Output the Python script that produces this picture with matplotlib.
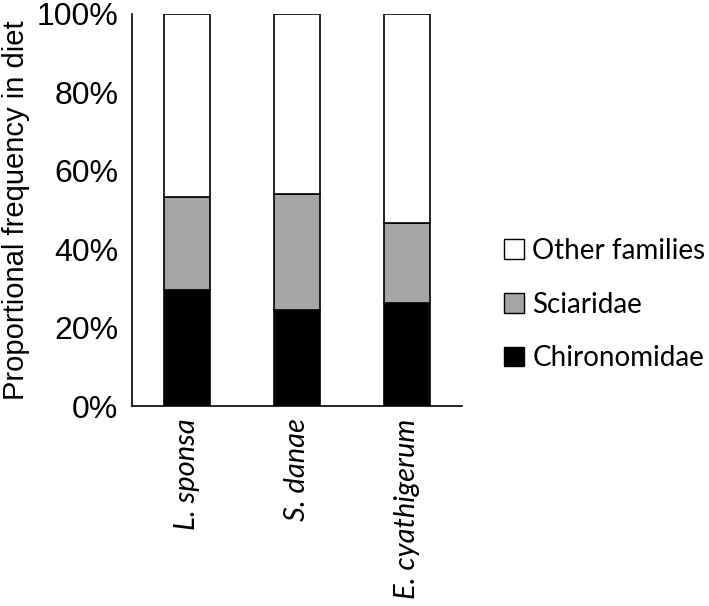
import matplotlib
matplotlib.use("Agg")
import matplotlib.pyplot as plt
from matplotlib.patches import Patch
from matplotlib.ticker import PercentFormatter

# values (percent of diet)
species = ["L. sponsa", "S. danae", "E. cyathigerum"]
chironomidae = [29.6, 24.5, 26.2]
sciaridae = [23.8, 29.5, 20.4]
other = [100 - c - s for c, s in zip(chironomidae, sciaridae)]

series = [("Chironomidae", chironomidae, "black"),
          ("Sciaridae", sciaridae, "#a6a6a6"),
          ("Other families", other, "white")]

fig = plt.figure(figsize=(7.09, 6.06), dpi=100)
ax = fig.add_axes([0.1862, 0.33, 0.4654, 0.6469])

x = range(len(species))
bottom = [0.0] * len(species)
for name, vals, color in series:
    ax.bar(x, vals, width=0.41, bottom=bottom, color=color,
           edgecolor="black", linewidth=1.2, label=name, zorder=2)
    bottom = [b + v for b, v in zip(bottom, vals)]

ax.set_xlim(-0.5, 2.5)
ax.set_ylim(0, 100)
ax.set_yticks([0, 20, 40, 60, 80, 100])
ax.yaxis.set_major_formatter(PercentFormatter(decimals=0))
ax.tick_params(axis="y", length=0, pad=10, labelsize=23)
for lbl in ax.get_yticklabels():
    lbl.set_family("Liberation Sans")

ax.set_xticks(list(x))
ax.set_xticklabels(species, rotation=90, style="italic", family="Lato",
                   fontsize=21, va="top")
ax.tick_params(axis="x", length=0, pad=9)

for side in ["top", "right"]:
    ax.spines[side].set_visible(False)
ax.spines["left"].set_linewidth(1.2)
ax.spines["bottom"].set_linewidth(1.2)

# y label placed by hand so it sits close to the left edge like the original
fig.text(0.003, 0.33 + 0.6469 / 2, "Proportional frequency in diet",
         rotation=90, ha="left", va="center", family="Liberation Sans",
         fontsize=21)

handles = [Patch(facecolor=c, edgecolor="black", label=n) for n, _, c in reversed(series)]
fig.legend(handles=handles, loc="center left", bbox_to_anchor=(0.711, 0.4975),
           frameon=False, prop={"family": "Lato", "size": 20},
           handlelength=0.72, handleheight=0.72, handletextpad=0.3,
           labelspacing=1.0, borderaxespad=0, borderpad=0)

fig.savefig("out.png", dpi=100)
